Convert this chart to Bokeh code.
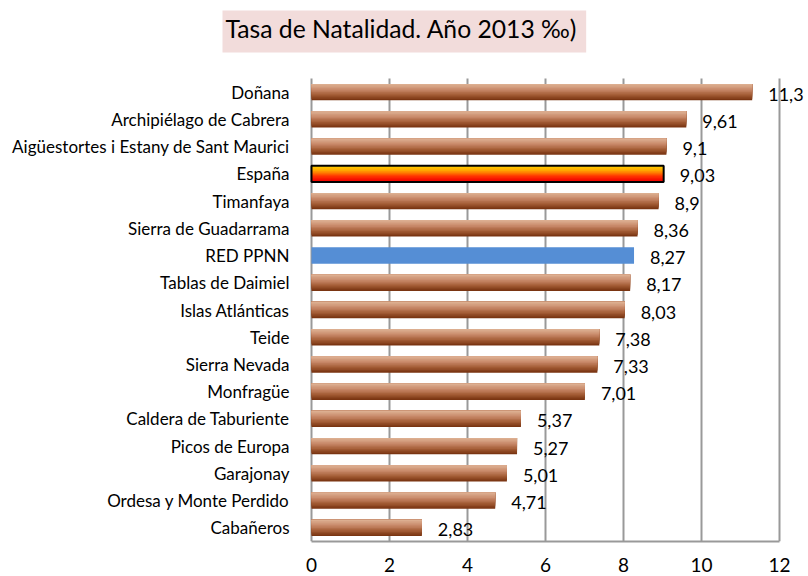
from bokeh.plotting import figure
from bokeh.models import ColumnDataSource, Range1d, FixedTicker, Label
from bokeh.core.properties import value
from bokeh.transform import dodge
from bokeh.embed import file_html
from bokeh.resources import INLINE

categories = ["Doñana", "Archipiélago de Cabrera", "Aigüestortes i Estany de Sant Maurici",
              "España", "Timanfaya", "Sierra de Guadarrama", "RED PPNN", "Tablas de Daimiel",
              "Islas Atlánticas", "Teide", "Sierra Nevada", "Monfragüe",
              "Caldera de Taburiente", "Picos de Europa", "Garajonay",
              "Ordesa y Monte Perdido", "Cabañeros"]
values = [11.3, 9.61, 9.1, 9.03, 8.9, 8.36, 8.27, 8.17, 8.03, 7.38, 7.33, 7.01,
          5.37, 5.27, 5.01, 4.71, 2.83]
value_labels = ["11,3", "9,61", "9,1", "9,03", "8,9", "8,36", "8,27", "8,17", "8,03",
                "7,38", "7,33", "7,01", "5,37", "5,27", "5,01", "4,71", "2,83"]
x_ticks = [0, 2, 4, 6, 8, 10, 12]
title_text = "Tasa de Natalidad. Año 2013 ‰)"

FONT = "Lato"
BAR_H = 0.6
GRID = "#999999"

n = len(categories)
ypos = [n - 1 - i for i in range(n)]          # first category on top
y_lo, y_hi = min(ypos) - 0.5, max(ypos) + 0.5

# canvas geometry (pixels): plot area from x=311 to 779 for 0..12, bottom at 541
PX_PER_X = (779 - 311) / (x_ticks[-1] - x_ticks[0])
PX_PER_Y = (541 - 78) / (y_hi - y_lo)
x_start = x_ticks[0] - 311 / PX_PER_X
x_end = x_ticks[-1] + (808 - 779) / PX_PER_X
y_end = y_lo + 541 / PX_PER_Y

def lerp(c1, c2, t):
    a = [int(c1[i:i + 2], 16) for i in (1, 3, 5)]
    b = [int(c2[i:i + 2], 16) for i in (1, 3, 5)]
    return "#%02x%02x%02x" % tuple(round(a[k] + (b[k] - a[k]) * t) for k in range(3))

def gradient(stops, k):
    out = []
    for i in range(k):
        t = i / (k - 1)
        seg = min(int(t * (len(stops) - 1)), len(stops) - 2)
        lt = t * (len(stops) - 1) - seg
        out.append(lerp(stops[seg], stops[seg + 1], lt))
    return out

brown_stops = ["#dcae90", "#c8896a", "#a65f38", "#7a3512"]
spain_stops = ["#ffd000", "#ff9a00", "#ff3000", "#f00000"]

p = figure(width=808, height=576, x_range=Range1d(x_start, x_end),
           y_range=Range1d(y_lo, y_end), y_axis_location=None,
           output_backend="svg", toolbar_location=None,
           min_border_left=0, min_border_right=0, min_border_top=0, min_border_bottom=35)
p.outline_line_color = None
p.grid.grid_line_color = None
p.title.visible = False

# vertical grid lines (and left axis line at 0), only over the bar area
p.segment(x0=x_ticks, x1=x_ticks, y0=[y_lo] * len(x_ticks), y1=[y_hi] * len(x_ticks),
          line_color=GRID, line_width=2)

normal = [i for i, c in enumerate(categories) if c not in ("España", "RED PPNN")]
src_normal = ColumnDataSource(dict(y=[ypos[i] for i in normal], val=[values[i] for i in normal]))
i_es = categories.index("España")
i_red = categories.index("RED PPNN")
src_es = ColumnDataSource(dict(y=[ypos[i_es]], val=[values[i_es]]))
src_red = ColumnDataSource(dict(y=[ypos[i_red]], val=[values[i_red]]))

N = 12
sh = BAR_H / N

def gradient_bar(src, stops):
    cols = gradient(stops, N)
    for j in range(N - 1, -1, -1):
        h = (j + 1) * sh
        off = BAR_H / 2 - h / 2
        p.hbar(y=dodge("y", off), right="val", left=0, height=h,
               source=src, fill_color=cols[j], line_color=None)

gradient_bar(src_normal, brown_stops)
gradient_bar(src_es, spain_stops)
p.hbar(y="y", right="val", left=0, height=BAR_H, source=src_es,
       fill_color=None, line_color="black", line_width=2)
p.hbar(y="y", right="val", left=0, height=BAR_H, source=src_red,
       fill_color="#558ed5", line_color=None)

src_lab = ColumnDataSource(dict(y=ypos, val=values, lab=value_labels, cat=categories,
                                zero=[0] * n))
p.text(x="val", y="y", text="lab", source=src_lab, x_offset=16, y_offset=2,
       text_font=value(FONT), text_font_size="18px", text_align="left",
       text_baseline="middle", text_color="black")
p.text(x="zero", y="y", text="cat", source=src_lab, x_offset=-22, y_offset=0,
       text_font=value(FONT), text_font_size="17px", text_align="right",
       text_baseline="middle", text_color="black")

p.xaxis.ticker = FixedTicker(ticks=x_ticks)
p.xaxis.bounds = (x_ticks[0], x_ticks[-1])
p.xaxis.major_label_text_font = FONT
p.xaxis.major_label_text_font_size = "19px"
p.xaxis.major_label_text_color = "black"
p.xaxis.major_tick_line_color = None
p.xaxis.minor_tick_line_color = None
p.xaxis.major_label_standoff = 10
p.xaxis.axis_line_color = GRID
p.xaxis.axis_line_width = 2

title = Label(x=222, y=510, x_units="screen", y_units="screen", text=title_text,
              text_font=FONT, text_font_size="24.7px", text_align="left",
              text_baseline="middle", text_color="black",
              background_fill_color="#f2dcdb", padding=(3, 9, 3, 10))
p.add_layout(title)

open("out.html", "w").write(file_html(p, INLINE))
